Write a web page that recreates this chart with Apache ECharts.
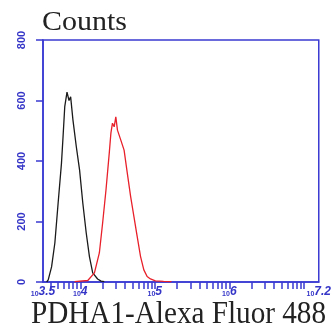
<!DOCTYPE html>
<html style="height: 100%">
<head>
	<meta charset="utf-8">
</head>
<body style="height: 100%; margin: 0; background: #fff">
<div id="container" style="height: 100%"></div>
<script type="text/javascript" src="https://cdn.jsdelivr.net/npm/echarts@6/dist/echarts.min.js"></script>
<script type="text/javascript">
    var dom = document.getElementById("container");
    var myChart = echarts.init(dom);

    // x values are log10 of the fluorescence intensity
    var blackX = [3.549, 3.570, 3.615, 3.659, 3.703, 3.748, 3.769, 3.792, 3.822, 3.849, 3.871, 3.902, 3.947, 3.991, 4.034, 4.080, 4.123, 4.167, 4.233, 4.279, 4.322];
    var blackY = [0, 7, 50, 129, 261, 393, 480, 580, 628, 600, 612, 535, 447, 370, 261, 162, 84, 30, 10, 3, 1];
    var redX = [3.924, 4.101, 4.190, 4.256, 4.300, 4.345, 4.389, 4.411, 4.432, 4.455, 4.477, 4.499, 4.544, 4.588, 4.631, 4.676, 4.720, 4.764, 4.809, 4.853, 4.897, 4.942, 5.008, 5.118, 5.224];
    var redY = [1, 5, 30, 96, 195, 304, 426, 492, 525, 513, 546, 502, 469, 436, 360, 282, 216, 150, 84, 40, 18, 10, 4, 2, 1];
    var xLabels = [3.5, 4, 5, 6, 7.2];

    var blue = '#3a3ad2';
    var labelBlue = '#3535c8';
    var titleFont = '28px "Liberation Serif"';
    var nameFont = '32px "Liberation Serif"';

    // log minor ticks 2..9 x 10^k inside the range
    var tickPos = [];
    for (var k = 3; k <= 7; k++) {
        for (var m = 1; m <= 9; m++) {
            var v = Math.log10(m * Math.pow(10, k));
            if (v >= 3.5 && v <= 7.2) tickPos.push(v);
        }
    }

    function pairs(xs, ys) {
        return xs.map(function (x, i) { return [x, ys[i]]; });
    }

    // stretch text horizontally to a target width
    var ctx = document.createElement('canvas').getContext('2d');
    function fitScale(text, font, width) {
        ctx.font = font;
        return width / ctx.measureText(text).width;
    }

    var option = {
        backgroundColor: '#fff',
        animation: false,
        grid: {
            left: 43, right: 12, top: 40, bottom: 47,
            show: true, borderColor: blue, borderWidth: 1.5
        },
        xAxis: {
            type: 'value', min: 3.5, max: 7.2,
            axisLine: { lineStyle: { color: blue, width: 1.5 } },
            axisTick: { customValues: tickPos, length: 7, lineStyle: { color: blue, width: 1.5 } },
            splitLine: { show: false },
            axisLabel: {
                customValues: xLabels,
                margin: 4,
                formatter: function (v) { return '{a|10}{b|' + v + '}'; },
                rich: {
                    a: { fontSize: 7, fontWeight: 'bold', color: labelBlue, fontFamily: 'Liberation Sans', verticalAlign: 'bottom' },
                    b: { fontSize: 12, fontStyle: 'italic', fontWeight: 'bold', color: labelBlue, fontFamily: 'Liberation Sans', verticalAlign: 'top' }
                }
            }
        },
        yAxis: {
            type: 'value', min: 0, max: 800, interval: 200,
            axisLine: { lineStyle: { color: blue, width: 1.5 } },
            axisTick: { length: 7, lineStyle: { color: blue, width: 1.5 } },
            splitLine: { show: false },
            axisLabel: {
                rotate: 90, margin: 16,
                color: labelBlue, fontSize: 11, fontWeight: 'bold', fontFamily: 'Liberation Sans'
            }
        },
        graphic: [
            {
                type: 'text', x: 42, y: 23, scaleX: fitScale('Counts', titleFont, 85),
                style: { text: 'Counts', font: titleFont, fill: '#222', verticalAlign: 'middle' }
            },
            {
                type: 'text', x: 31, y: 315, scaleX: fitScale('PDHA1-Alexa Fluor 488', nameFont, 295),
                style: { text: 'PDHA1-Alexa Fluor 488', font: nameFont, fill: '#222', verticalAlign: 'middle' }
            }
        ],
        series: [
            {
                type: 'line', data: pairs(blackX, blackY), symbol: 'none',
                lineStyle: { color: '#1a1a1a', width: 1.3 }
            },
            {
                type: 'line', data: pairs(redX, redY), symbol: 'none',
                lineStyle: { color: '#e8202a', width: 1.3 }
            }
        ]
    };

    myChart.setOption(option, true);
    window.addEventListener('resize', function () {
        myChart.resize();
    });
</script>
</body>
</html>
